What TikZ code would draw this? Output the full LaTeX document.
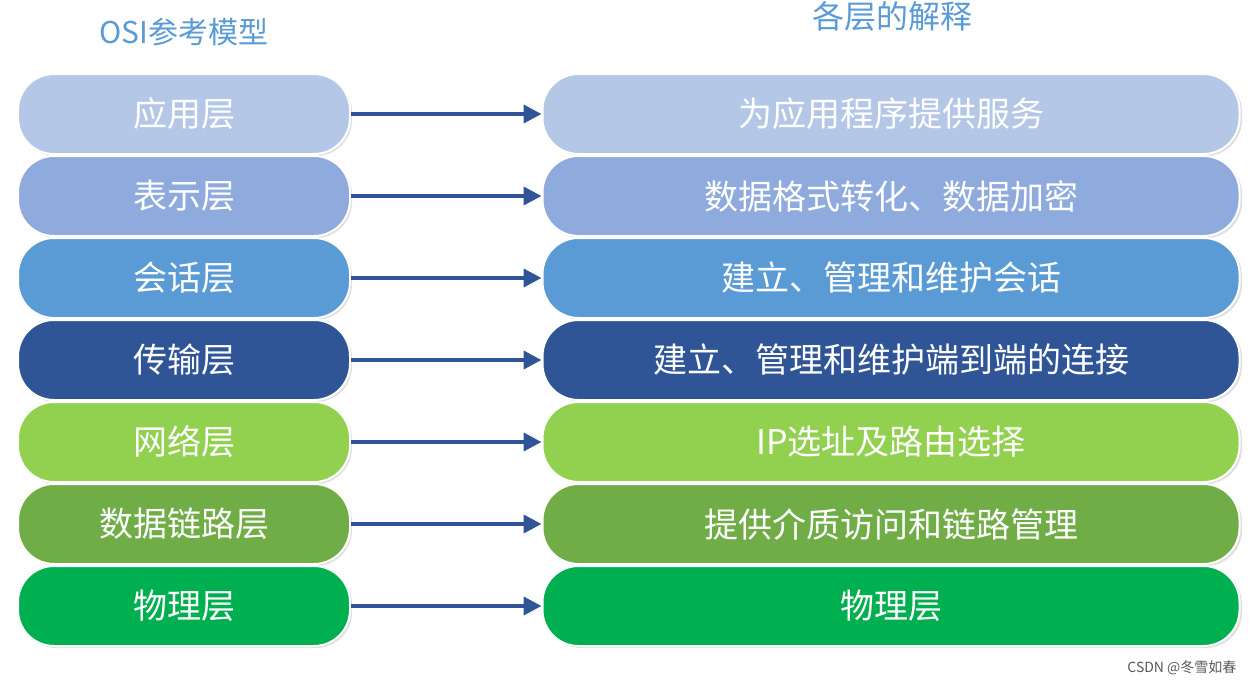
\documentclass[tikz,border=0pt]{standalone}
\usepackage{fontspec}
\newfontfamily\cjk{Noto Sans CJK SC}
\usetikzlibrary{arrows.meta}
\definecolor{c1}{HTML}{B4C7E7}
\definecolor{c2}{HTML}{8FAADC}
\definecolor{c3}{HTML}{5B9BD5}
\definecolor{c4}{HTML}{2F5597}
\definecolor{c5}{HTML}{92D050}
\definecolor{c6}{HTML}{70AD47}
\definecolor{c7}{HTML}{00B050}
\definecolor{arr}{HTML}{2F5597}
\definecolor{hdr}{HTML}{5B9BD5}
\tikzset{
  layer/.style={rounded corners=36pt, draw=white, line width=2pt, text=white, font=\cjk\fontsize{34}{36}\selectfont, inner sep=0pt},
  conn/.style={draw=arr, line width=4pt, -{Triangle[length=18pt,width=18pt]}},
}
\begin{document}
\begin{tikzpicture}[x=1pt,y=-1pt]
\useasboundingbox (0,0) rectangle (1250,688);
\fill[white] (0,0) rectangle (1250,688);
\node[text=hdr, font=\cjk\fontsize{30}{32}\selectfont] (h1) at (184,32) {OSI参考模型};
\node[text=hdr, font=\cjk\fontsize{32}{34}\selectfont] (h2) at (892,16) {各层的解释};
\foreach \i/\l/\r in {1/应用层/为应用程序提供服务, 2/表示层/数据格式转化、数据加密, 3/会话层/建立、管理和维护会话, 4/传输层/建立、管理和维护端到端的连接, 5/网络层/IP选址及路由选择, 6/数据链路层/提供介质访问和链路管理, 7/物理层/物理层}{
  \pgfmathsetmacro{\yc}{114+82*(\i-1)}
  \fill[gray!25, rounded corners=36pt] (20,\yc-38) rectangle (352,\yc+42);
  \fill[gray!25, rounded corners=36pt] (545,\yc-38) rectangle (1242,\yc+42);
  \node[layer, fill=c\i, minimum width=332pt, minimum height=80pt] (L\i) at (184,\yc) {\l};
  \node[layer, fill=c\i, minimum width=697pt, minimum height=80pt] (R\i) at (891,\yc) {\r};
  \draw[conn] (L\i.east) -- (R\i.west);
}
\node[text=gray!70!black, font=\cjk\fontsize{14}{16}\selectfont, anchor=east] (wm) at (1240,668) {CSDN @冬雪如春};
\end{tikzpicture}
\end{document}
